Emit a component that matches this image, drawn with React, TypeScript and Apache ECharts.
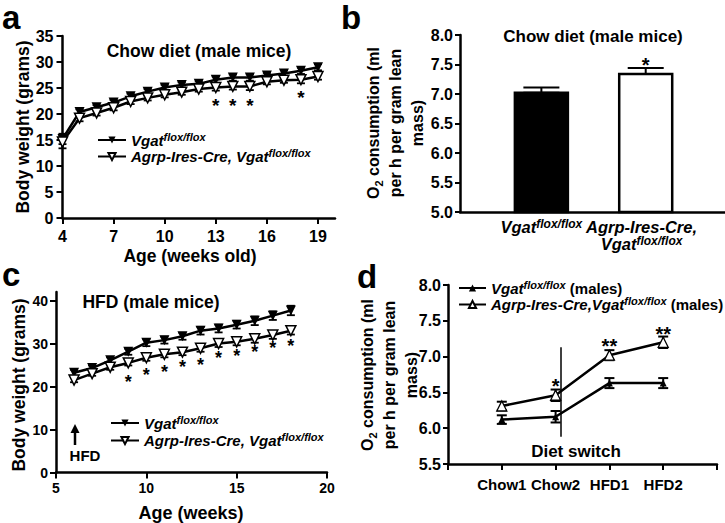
import React, { useEffect, useRef } from 'react';
import * as echarts from 'echarts';

const FONT = '"Liberation Sans", Arial, Helvetica, sans-serif';

// ---------- Panel a (chow, body weight) ----------
const aWeeks = [4, 5, 6, 7, 8, 9, 10, 11, 12, 13, 14, 15, 16, 17, 18, 19];
const aVgat = [15.2, 20.4, 21.3, 22.2, 23.4, 24.3, 25.1, 25.6, 25.8, 26.6, 27.0, 27.0, 27.4, 27.8, 28.3, 29.0];
const aVgatSem = [1.0, 0.5, 0.4, 0.5, 0.5, 0.5, 0.5, 0.5, 0.5, 0.6, 0.6, 0.6, 0.5, 0.6, 0.6, 0.6];
const aAgrp = [14.6, 19.2, 20.2, 21.2, 22.4, 23.1, 23.7, 24.2, 24.8, 25.1, 25.3, 25.3, 26.2, 26.5, 26.6, 27.2];
const aAgrpSem = [1.2, 0.6, 0.5, 0.5, 0.5, 0.5, 0.5, 0.5, 0.5, 0.6, 0.6, 0.7, 0.5, 0.5, 0.7, 0.6];
const aStarWeeks = [13, 14, 15, 18];
const aStarY = [22.4, 22.4, 22.4, 24.0];
const aTickWeeks = [4, 7, 10, 13, 16, 19];

// ---------- Panel b (chow, O2) ----------
const bGroups = ['Vgat', 'Agrp'];
const bMeans = [7.02, 7.34];
const bSem = [0.09, 0.1];
const bStarY = [7.56];
const bLabelPos = [1, 1.96];

// ---------- Panel c (HFD, body weight) ----------
const cWeeks = [6, 7, 8, 9, 10, 11, 12, 13, 14, 15, 16, 17, 18];
const cVgat = [23.2, 24.3, 26.1, 28.1, 30.2, 30.8, 31.7, 33.0, 33.5, 34.4, 35.3, 36.5, 37.7];
const cVgatSem = [0.7, 0.6, 0.7, 0.7, 0.8, 0.8, 0.8, 0.9, 0.9, 0.9, 1.0, 1.0, 1.1];
const cAgrp = [21.5, 23.0, 24.5, 25.5, 26.7, 27.5, 28.0, 28.9, 30.0, 30.4, 31.1, 32.0, 33.0];
const cAgrpSem = [0.5, 0.5, 0.6, 0.6, 0.7, 0.7, 0.7, 0.8, 0.8, 0.8, 0.9, 0.9, 0.9];
const cStarWeeks = [9, 10, 11, 12, 13, 14, 15, 16, 17, 18];
const cStarY = [22.0, 23.7, 24.3, 25.4, 26.0, 27.5, 28.1, 28.9, 29.8, 30.4];
const cTickY = [0, 10, 20, 30, 40];

// ---------- Panel d (diet switch, O2) ----------
const dCats = ['Chow1', 'Chow2', 'HFD1', 'HFD2'];
const dVgat = [6.12, 6.16, 6.63, 6.63];
const dVgatSem = [0.06, 0.08, 0.07, 0.07];
const dAgrp = [6.31, 6.46, 7.02, 7.2];
const dAgrpSem = [0.06, 0.08, 0.07, 0.08];
const dStarIdx = [2, 3, 4];
const dStarY = [6.65, 7.21, 7.37];
const dStarText = ['*', '**', '**'];
const dSwitchX = 2.1;
const dSwitchY = [7.13, 5.88];

const axisLine = { show: true, onZero: false, lineStyle: { color: '#000', width: 2.5 } };
const tick = (len: number) => ({ show: true, length: len, lineStyle: { color: '#000', width: 2 } });
const lbl = (size: number, margin: number) => ({
  show: true, color: '#000', fontSize: size, fontWeight: 'bold', fontFamily: FONT, margin,
  hideOverlap: false, showMinLabel: true, showMaxLabel: true,
});
const noSplit = { show: false };

const legendRich = {
  i: { fontSize: 15, fontStyle: 'italic', fontWeight: 'bold', fontFamily: FONT, color: '#000', lineHeight: 18 },
  s: { fontSize: 11, fontStyle: 'italic', fontWeight: 'bold', fontFamily: FONT, color: '#000', verticalAlign: 'top', lineHeight: 12 },
  r: { fontSize: 15, fontWeight: 'bold', fontFamily: FONT, color: '#000', lineHeight: 18 },
};

const bLabelRich = {
  i: { fontSize: 16.5, fontStyle: 'italic', fontWeight: 'bold', fontFamily: FONT, color: '#000', lineHeight: 17 },
  s: { fontSize: 12, fontStyle: 'italic', fontWeight: 'bold', fontFamily: FONT, color: '#000', verticalAlign: 'top', lineHeight: 10 },
};

function errRender(cap: number, lw: number) {
  return (_params: any, api: any) => {
    const x = api.value(0);
    const lo = api.coord([x, api.value(1)]);
    const hi = api.coord([x, api.value(2)]);
    const st = { stroke: '#000', lineWidth: lw };
    return {
      type: 'group',
      children: [
        { type: 'line', shape: { x1: lo[0], y1: lo[1], x2: hi[0], y2: hi[1] }, style: st },
        { type: 'line', shape: { x1: hi[0] - cap / 2, y1: hi[1], x2: hi[0] + cap / 2, y2: hi[1] }, style: st },
        { type: 'line', shape: { x1: lo[0] - cap / 2, y1: lo[1], x2: lo[0] + cap / 2, y2: lo[1] }, style: st },
      ],
    };
  };
}

function errSeries(ax: number, xs: number[], ys: number[], sem: number[], cap: number, lw: number, both = true) {
  return {
    type: 'custom', xAxisIndex: ax, yAxisIndex: ax, silent: true, z: 2,
    renderItem: errRender(cap, lw),
    encode: { x: 0, y: [1, 2] },
    data: xs.map((x, i) => [x, both ? ys[i] - sem[i] : ys[i], ys[i] + sem[i]]),
  };
}

function starSeries(ax: number, xs: number[], ys: number[], texts: string[], size: number) {
  return {
    type: 'custom', xAxisIndex: ax, yAxisIndex: ax, silent: true, z: 6,
    encode: { x: 0, y: 1 },
    data: xs.map((x, i) => [x, ys[i]]),
    renderItem: (params: any, api: any) => {
      const c = api.coord([api.value(0), api.value(1)]);
      return {
        type: 'text', x: c[0], y: c[1] + 4,
        style: {
          text: texts[params.dataIndex], fill: '#000', fontSize: size, fontWeight: 'bold', fontFamily: FONT,
          align: 'center', verticalAlign: 'middle', textAlign: 'center', textVerticalAlign: 'middle',
        },
      };
    },
  };
}

function txt(text: string, x: number, y: number, size: number, extra: any = {}) {
  return {
    type: 'text', x, y, silent: true, rotation: extra.rotation || 0,
    style: {
      text, fill: '#000', fontSize: size, fontWeight: 'bold', fontFamily: FONT,
      align: extra.align || 'center', verticalAlign: 'middle',
      textAlign: extra.align || 'center', textVerticalAlign: 'middle',
      lineHeight: extra.lineHeight,
      rich: extra.rich,
    },
  };
}

const o2Rich = {
  n: { fontSize: 16, fontWeight: 'bold', fontFamily: FONT, color: '#000', lineHeight: 22 },
  sb: { fontSize: 11, fontWeight: 'bold', fontFamily: FONT, color: '#000', verticalAlign: 'bottom', lineHeight: 14 },
};
const o2Text = '{n|O}{sb|2}{n| consumption (ml}\n{n|per h per gram lean}\n{n|mass)}';

export default function App() {
  const ref = useRef<HTMLDivElement>(null);
  useEffect(() => {
    if (!ref.current) return;
    const chart = echarts.init(ref.current, undefined, { renderer: 'svg' });

    const option: any = {
      animation: false,
      backgroundColor: '#fff',
      grid: [
        { left: 62.5, top: 36, width: 272.5, height: 182, outerBoundsMode: 'none' },
        { left: 460, top: 35, width: 265, height: 177, outerBoundsMode: 'none' },
        { left: 56, top: 292, width: 271, height: 180.5, outerBoundsMode: 'none' },
        { left: 448, top: 285, width: 269, height: 179, outerBoundsMode: 'none' },
      ],
      xAxis: [
        {
          gridIndex: 0, type: 'value', min: 4, max: 20, axisLine, splitLine: noSplit,
          axisTick: { ...tick(6), customValues: aTickWeeks },
          axisLabel: { ...lbl(16, 10), customValues: aTickWeeks },
        },
        {
          gridIndex: 1, type: 'value', min: 0.22, max: 2.76, axisLine, splitLine: noSplit,
          axisTick: { show: false },
          axisLabel: {
            ...lbl(16.5, 6), customValues: bLabelPos, verticalAlign: 'top',
            formatter: (v: number) => (v < 1.5
              ? '{i|Vgat}{s|flox/flox}'
              : '{i|Agrp-Ires-Cre,}\n{i|Vgat}{s|flox/flox}'),
            rich: bLabelRich,
          },
        },
        {
          gridIndex: 2, type: 'value', min: 5, max: 20, interval: 5, axisLine, splitLine: noSplit,
          axisTick: tick(6), axisLabel: lbl(14, 8),
        },
        {
          gridIndex: 3, type: 'value', min: 0, max: 5, interval: 1, axisLine, splitLine: noSplit,
          axisTick: tick(6),
          axisLabel: { ...lbl(15, 13), formatter: (v: number) => dCats[Math.round(v) - 1] || '' },
        },
      ],
      yAxis: [
        {
          gridIndex: 0, type: 'value', min: 0, max: 35, interval: 5, axisLine, splitLine: noSplit,
          axisTick: tick(6), axisLabel: lbl(16, 9),
        },
        {
          gridIndex: 1, type: 'value', min: 5, max: 8, interval: 0.5, axisLine, splitLine: noSplit,
          axisTick: tick(5), axisLabel: { ...lbl(16, 7), formatter: (v: number) => v.toFixed(1) },
        },
        {
          gridIndex: 2, type: 'value', min: 0, max: 42, axisLine, splitLine: noSplit,
          axisTick: { ...tick(6), customValues: cTickY },
          axisLabel: { ...lbl(14, 8), customValues: cTickY },
        },
        {
          gridIndex: 3, type: 'value', min: 5.5, max: 8, interval: 0.5, axisLine, splitLine: noSplit,
          axisTick: tick(5), axisLabel: { ...lbl(16, 7), formatter: (v: number) => v.toFixed(1) },
        },
      ],
      legend: [
        {
          left: 97, top: 131, orient: 'vertical', itemWidth: 28, itemHeight: 9, itemGap: 0, padding: 0,
          selectedMode: false, data: ['aV', 'aA'],
          formatter: (n: string) => (n === 'aV' ? '{i|Vgat}{s|flox/flox}' : '{i|Agrp-Ires-Cre, Vgat}{s|flox/flox}'),
          textStyle: { color: '#000', fontFamily: FONT, rich: legendRich },
        },
        {
          left: 110, top: 414, orient: 'vertical', itemWidth: 28, itemHeight: 9, itemGap: 1, padding: 0,
          selectedMode: false, data: ['cV', 'cA'],
          formatter: (n: string) => (n === 'cV' ? '{i|Vgat}{s|flox/flox}' : '{i|Agrp-Ires-Cre, Vgat}{s|flox/flox}'),
          textStyle: { color: '#000', fontFamily: FONT, rich: legendRich },
        },
        {
          left: 458, top: 279, orient: 'vertical', itemWidth: 27, itemHeight: 9, itemGap: 0, padding: 0,
          selectedMode: false, data: ['dV', 'dA'],
          formatter: (n: string) => (n === 'dV'
            ? '{i|Vgat}{s|flox/flox}{r| (males)}'
            : '{i|Agrp-Ires-Cre,Vgat}{s|flox/flox}{r| (males)}'),
          textStyle: { color: '#000', fontFamily: FONT, rich: legendRich },
        },
      ],
      series: [
        // ---- a ----
        errSeries(0, aWeeks, aVgat, aVgatSem, 8, 1.8),
        errSeries(0, aWeeks, aAgrp, aAgrpSem, 8, 1.8),
        {
          type: 'line', name: 'aV', xAxisIndex: 0, yAxisIndex: 0, z: 3,
          data: aWeeks.map((w, i) => [w, aVgat[i]]),
          symbol: 'triangle', symbolRotate: 180, symbolSize: 10,
          lineStyle: { color: '#000', width: 2.5 }, itemStyle: { color: '#000' },
        },
        {
          type: 'line', name: 'aA', xAxisIndex: 0, yAxisIndex: 0, z: 4,
          data: aWeeks.map((w, i) => [w, aAgrp[i]]),
          symbol: 'triangle', symbolRotate: 180, symbolSize: 10,
          lineStyle: { color: '#000', width: 2.5 },
          itemStyle: { color: '#fff', borderColor: '#000', borderWidth: 1.5 },
        },
        starSeries(0, aStarWeeks, aStarY, aStarWeeks.map(() => '*'), 19),
        // ---- b ----
        {
          type: 'custom', xAxisIndex: 1, yAxisIndex: 1, silent: true, z: 2,
          encode: { x: 0, y: 1 },
          data: bGroups.map((_g, i) => [i + 1, bMeans[i]]),
          renderItem: (params: any, api: any) => {
            const x = api.value(0);
            const top = api.coord([x, api.value(1)]);
            const base = api.coord([x, 5]);
            const w = 53;
            return {
              type: 'rect',
              shape: { x: top[0] - w / 2, y: top[1], width: w, height: base[1] - top[1] },
              style: { fill: params.dataIndex === 0 ? '#000' : '#fff', stroke: '#000', lineWidth: 2.5 },
            };
          },
        },
        { ...errSeries(1, [1, 2], bMeans, bSem, 36, 2, false), z: 1 },
        starSeries(1, [2], bStarY, ['*'], 20),
        // ---- c ----
        errSeries(2, cWeeks, cVgat, cVgatSem, 8, 1.8),
        errSeries(2, cWeeks, cAgrp, cAgrpSem, 8, 1.8),
        {
          type: 'line', name: 'cV', xAxisIndex: 2, yAxisIndex: 2, z: 3,
          data: cWeeks.map((w, i) => [w, cVgat[i]]),
          symbol: 'triangle', symbolRotate: 180, symbolSize: 10,
          lineStyle: { color: '#000', width: 2.5 }, itemStyle: { color: '#000' },
        },
        {
          type: 'line', name: 'cA', xAxisIndex: 2, yAxisIndex: 2, z: 4,
          data: cWeeks.map((w, i) => [w, cAgrp[i]]),
          symbol: 'triangle', symbolRotate: 180, symbolSize: 10,
          lineStyle: { color: '#000', width: 2.5 },
          itemStyle: { color: '#fff', borderColor: '#000', borderWidth: 1.5 },
        },
        starSeries(2, cStarWeeks, cStarY, cStarWeeks.map(() => '*'), 18),
        // ---- d ----
        errSeries(3, [1, 2, 3, 4], dVgat, dVgatSem, 10, 2),
        errSeries(3, [1, 2, 3, 4], dAgrp, dAgrpSem, 10, 2),
        {
          type: 'line', name: 'dV', xAxisIndex: 3, yAxisIndex: 3, z: 3,
          data: dCats.map((_c, i) => [i + 1, dVgat[i]]),
          symbol: 'triangle', symbolSize: 7,
          lineStyle: { color: '#000', width: 2.5 }, itemStyle: { color: '#000' },
        },
        {
          type: 'line', name: 'dA', xAxisIndex: 3, yAxisIndex: 3, z: 4,
          data: dCats.map((_c, i) => [i + 1, dAgrp[i]]),
          symbol: 'triangle', symbolSize: 10,
          lineStyle: { color: '#000', width: 2.5 },
          itemStyle: { color: '#fff', borderColor: '#000', borderWidth: 1.3 },
          markLine: {
            silent: true, symbol: 'none', label: { show: false },
            lineStyle: { color: '#000', width: 1.5, type: 'solid' },
            data: [[{ coord: [dSwitchX, dSwitchY[0]] }, { coord: [dSwitchX, dSwitchY[1]] }]],
          },
        },
        starSeries(3, dStarIdx, dStarY, dStarText, 20),
      ],
      graphic: [
        // panel letters
        txt('a', 2, 17, 33, { align: 'left', lineHeight: 30 }),
        txt('b', 341, 17, 33, { align: 'left', lineHeight: 30 }),
        txt('c', 2, 274, 33, { align: 'left', lineHeight: 26 }),
        txt('d', 357, 276, 33, { align: 'left', lineHeight: 30 }),
        // titles
        txt('Chow diet (male mice)', 199, 51, 17.5),
        txt('Chow diet (male mice)', 593, 36, 17),
        txt('HFD (male mice)', 151, 302, 17.5),
        // axis names
        txt('Body weight (grams)', 23, 127, 17.5, { rotation: Math.PI / 2 }),
        txt('Age (weeks old)', 190, 256, 17.5),
        txt('Body weight (grams)', 19, 385, 17.5, { rotation: Math.PI / 2 }),
        txt('Age (weeks)', 191, 513, 18),
        txt(o2Text, 395, 123, 16, { rotation: Math.PI / 2, rich: o2Rich }),
        txt(o2Text, 389, 375, 16, { rotation: Math.PI / 2, rich: o2Rich }),
        // annotations
        txt('Diet switch', 576, 451, 17),
        txt('HFD', 85, 455, 15),
        {
          type: 'polygon', silent: true,
          shape: { points: [[70.5, 433], [75, 424], [79.5, 433]] },
          style: { fill: '#000' },
        },
        {
          type: 'line', silent: true,
          shape: { x1: 75, y1: 432, x2: 75, y2: 445 },
          style: { stroke: '#000', lineWidth: 2.5 },
        },
      ],
    };

    chart.setOption(option);
    return () => chart.dispose();
  }, []);

  return (
    <div
      ref={ref}
      style={{ position: 'absolute', left: 0, top: 0, width: 725, height: 523, background: '#fff' }}
    />
  );
}
